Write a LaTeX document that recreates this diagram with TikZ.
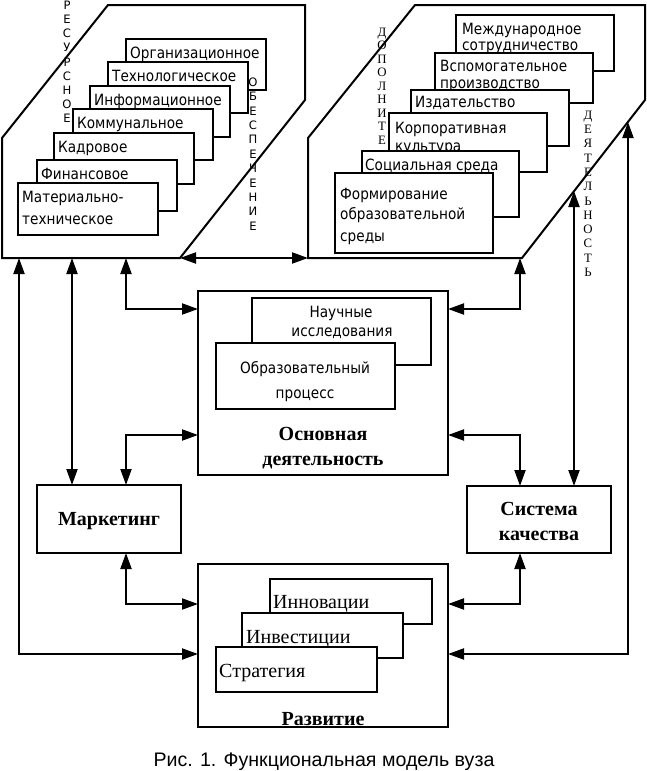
\documentclass[tikz,border=0pt]{standalone}
\usepackage{fontspec}
\setmainfont{Liberation Serif}
\newfontfamily\boxf[FakeStretch=0.88]{DejaVu Sans}
\newfontfamily\capf{Liberation Sans}
\newfontfamily\vsf{DejaVu Sans}
\usetikzlibrary{arrows.meta}
\tikzset{
  shapeline/.style={draw, line width=2pt, line join=miter},
  ib/.style={draw, fill=white, line width=1.8pt, anchor=north west, inner sep=0pt, outer sep=0pt},
  bigbox/.style={draw, fill=white, line width=2pt, anchor=north west, inner sep=0pt, outer sep=0pt},
  tx/.style={anchor=base west, inner sep=0pt, font=\boxf\fontsize{15.5}{18}\selectfont},
  txc/.style={anchor=base, inner sep=0pt, font=\boxf\fontsize{15.5}{18}\selectfont},
  bt/.style={anchor=base, inner sep=0pt, font=\bfseries\fontsize{20}{24}\selectfont},
  st/.style={anchor=base west, inner sep=0pt, font=\fontsize{20}{24}\selectfont},
  vs/.style={inner sep=0pt, text height=8.5pt, text depth=0pt, anchor=center, font=\vsf\fontsize{11.6}{13}\selectfont},
  vr/.style={inner sep=0pt, text height=8.5pt, text depth=0pt, anchor=center, font=\fontsize{12.8}{14}\selectfont},
  arr/.style={line width=2pt, {Triangle[length=16pt,width=11pt]}-{Triangle[length=16pt,width=11pt]}},
}
\begin{document}
\begin{tikzpicture}[x=1pt,y=-1pt]
\useasboundingbox (0,0) rectangle (647,771);

% ---------- top-left block: resources ----------
\draw[shapeline] (2,138) -- (108,5) -- (305,5) -- (305,100) -- (180,258) -- (2,258) -- cycle;
\coordinate (tlBR) at (180,258);
\foreach \c [count=\i from 0] in {Р,Е,С,У,Р,С,Н,О,Е}
  \node[vs] (res\i) at (67,{5+14.2*\i}) {\c};

\node[ib, minimum width=140pt, minimum height=51pt] (b1) at (126,39) {};
\node[tx] (tb1) at (130,58) {Организационное};
\node[ib, minimum width=140pt, minimum height=51pt] (b2) at (108,62) {};
\node[tx] (tb2) at (112,81) {Технологическое};
\node[ib, minimum width=140pt, minimum height=51pt] (b3) at (90,86) {};
\node[tx] (tb3) at (94,105) {Информационное};
\node[ib, minimum width=140pt, minimum height=51pt] (b4) at (73,109) {};
\node[tx] (tb4) at (77,128) {Коммунальное};
\node[ib, minimum width=140pt, minimum height=51pt] (b5) at (54,133) {};
\node[tx] (tb5) at (58,152) {Кадровое};
\node[ib, minimum width=140pt, minimum height=51pt] (b6) at (37,160) {};
\node[tx] (tb6) at (41,179) {Финансовое};
\node[ib, minimum width=140pt, minimum height=52pt] (b7) at (18,183) {};
\node[tx] (tb7a) at (22,202) {Материально-};
\node[tx] (tb7b) at (22,224) {техническое};

\foreach \c [count=\i from 0] in {О,Б,Е,С,П,Е,Ч,Е,Н,И,Е}
  \node[vs] (obe\i) at (253,{82+14.4*\i}) {\c};

% ---------- top-right block: additional activity ----------
\draw[shapeline] (308,138) -- (415,5) -- (645,5) -- (645,100) -- (522,258) -- (308,258) -- cycle;
\coordinate (trBL) at (308,258);
\foreach \c [count=\i from 0] in {Д,О,П,О,Л,Н,И,Т,Е}
  \node[vr] (dop\i) at (382,{32+13.5*\i}) {\c};

\node[ib, minimum width=158pt, minimum height=56pt] (r1) at (456,15) {};
\node[tx] (tr1a) at (462,34) {Международное};
\node[tx] (tr1b) at (462,50) {сотрудничество};
\node[ib, minimum width=158pt, minimum height=50pt] (r2) at (435,53) {};
\node[tx] (tr2a) at (440,71) {Вспомогательное};
\node[tx] (tr2b) at (440,88) {производство};
\node[ib, minimum width=158pt, minimum height=56pt] (r3) at (411,90) {};
\node[tx] (tr3) at (415,107) {Издательство};
\node[ib, minimum width=158pt, minimum height=59pt] (r4) at (389,113) {};
\node[tx] (tr4a) at (395,133) {Корпоративная};
\node[tx] (tr4b) at (395,151) {культура};
\node[ib, minimum width=157pt, minimum height=66pt] (r5) at (362,151) {};
\node[tx] (tr5) at (365,170) {Социальная среда};
\node[ib, minimum width=158pt, minimum height=80pt] (r6) at (335,173) {};
\node[tx] (tr6a) at (340,199) {Формирование};
\node[tx] (tr6b) at (340,219) {образовательной};
\node[tx] (tr6c) at (340,241) {среды};

\foreach \c [count=\i from 0] in {Д,Е,Я,Т,Е,Л,Ь,Н,О,С,Т,Ь}
  \node[vr] (dey\i) at (588,{115+14.3*\i}) {\c};

% ---------- main activity ----------
\node[bigbox, minimum width=250pt, minimum height=184pt] (M) at (198,291) {};
\node[ib, minimum width=179pt, minimum height=67pt] (N) at (252,298) {};
\node[txc] (tN1) at (341,317) {Научные};
\node[txc] (tN2) at (342,336) {исследования};
\node[ib, minimum width=179pt, minimum height=66pt] (O) at (216,343) {};
\node[txc] (tO1) at (305,373) {Образовательный};
\node[txc] (tO2) at (305,398) {процесс};
\node[bt] (tM1) at (323,440) {Основная};
\node[bt] (tM2) at (323,465) {деятельность};

% ---------- marketing & quality ----------
\node[bigbox, minimum width=144pt, minimum height=68pt] (K) at (37,485) {};
\node[bt] (tK) at (109,525) {Маркетинг};
\node[bigbox, minimum width=144pt, minimum height=67pt] (S) at (467,486) {};
\node[bt] (tS1) at (539,515) {Система};
\node[bt] (tS2) at (539,540) {качества};

% ---------- development ----------
\node[bigbox, minimum width=250pt, minimum height=163pt] (R) at (198,564) {};
\node[ib, line width=1.4pt, minimum width=162pt, minimum height=45pt] (I1) at (270,579) {};
\node[st] (tI1) at (273,608) {Инновации};
\node[ib, line width=1.6pt, minimum width=161pt, minimum height=45pt] (I2) at (242,613) {};
\node[st] (tI2) at (246,643) {Инвестиции};
\node[ib, minimum width=161pt, minimum height=45pt] (I3) at (216,647) {};
\node[st] (tI3) at (219,677) {Стратегия};
\node[bt] (tR) at (323,725) {Развитие};

% ---------- connectors ----------
\coordinate (a19) at (19,258);
\coordinate (a72) at (72,258);
\coordinate (a126) at (126,258);
\coordinate (a520) at (520,258);
\coordinate (a574) at (574,191);
\coordinate (a628) at (628,122);

\draw[arr] (tlBR) -- (trBL);
\draw[arr] (a19) |- ([yshift=-90pt]R.north west);
\draw[arr] (a72) -- (a72 |- K.north);
\draw[arr] (a126) |- ([yshift=-18pt]M.north west);
\draw[arr] ([yshift=-144pt]M.north west) -| ([xshift=89pt]K.north west);
\draw[arr] ([xshift=89pt]K.south west) |- ([yshift=-40pt]R.north west);
\draw[arr] ([yshift=-18pt]M.north east) -| (a520);
\draw[arr] ([yshift=-144pt]M.north east) -| ([xshift=53pt]S.north west);
\draw[arr] (a574) -- (a574 |- S.north);
\draw[arr] (a628) |- ([yshift=-90pt]R.north east);
\draw[arr] ([xshift=53pt]S.south west) |- ([yshift=-40pt]R.north east);

% ---------- caption ----------
\node[anchor=base, inner sep=0pt, font=\capf\fontsize{19.6}{22}\selectfont] (cap) at (324,766) {Рис. 1. Функциональная модель вуза};
\end{tikzpicture}
\end{document}
